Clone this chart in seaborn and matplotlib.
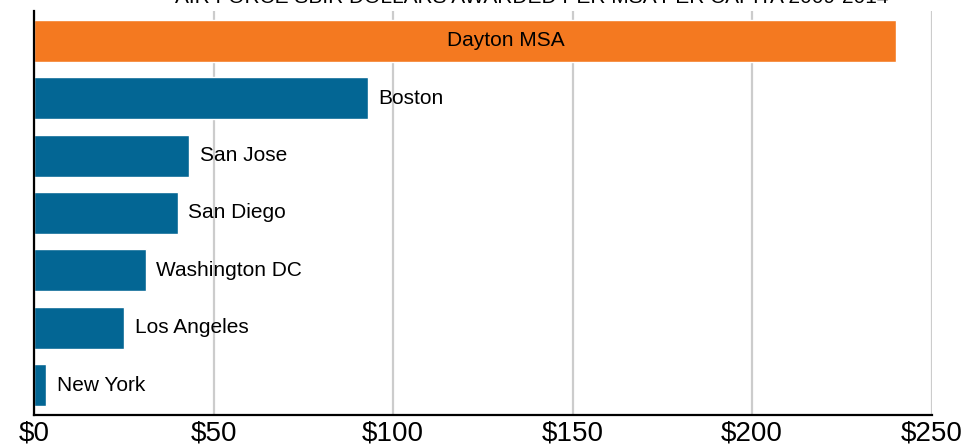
import matplotlib
matplotlib.use("Agg")
import matplotlib.pyplot as plt
import seaborn as sns
import pandas as pd

# ---- data ----
cities = ["Dayton MSA", "Boston", "San Jose", "San Diego", "Washington DC", "Los Angeles", "New York"]
dollars_per_capita = [240.0, 93.0, 43.2, 40.1, 31.2, 25.1, 3.4]
groups = ["Dayton", "Other", "Other", "Other", "Other", "Other", "Other"]
x_ticks = [0, 50, 100, 150, 200, 250]
x_tick_labels = ["$0", "$50", "$100", "$150", "$200", "$250"]
title = "AIR FORCE SBIR DOLLARS AWARDED PER MSA PER CAPITA 2009-2014"

ORANGE = "#F47920"
BLUE = "#036694"

sns.set_theme(style="white")
plt.rcParams["font.family"] = ["Liberation Sans", "DejaVu Sans"]

df = pd.DataFrame({"city": cities, "value": dollars_per_capita, "group": groups})

fig = plt.figure(figsize=(9.65, 4.47), dpi=100)
ax = fig.add_axes([34 / 965, 1 - 415 / 447, (931.5 - 34) / 965, (415 - 11) / 447])

sns.barplot(data=df, x="value", y="city", hue="group", orient="h",
            palette={"Dayton": ORANGE, "Other": BLUE}, width=0.73,
            dodge=False, legend=False, ax=ax, saturation=1)

ax.set_xlim(0, 250)
ax.set_ylim(len(cities) - 0.48, -0.52)
ax.set_xticks(x_ticks)
ax.set_xticklabels(x_tick_labels, fontsize=20)
ax.set_yticks([])
ax.set_xlabel("")
ax.set_ylabel("")
ax.tick_params(axis="x", length=0, pad=4, colors="black")

ax.grid(axis="x", color="#cccccc", linewidth=1.6)
ax.set_axisbelow(True)
for s in ["top", "right"]:
    ax.spines[s].set_visible(False)
for s in ["left", "bottom"]:
    ax.spines[s].set_color("black")
    ax.spines[s].set_linewidth(1.6)
    ax.spines[s].set_zorder(5)

for i, (c, v) in enumerate(zip(cities, dollars_per_capita)):
    if i == 0:
        ax.annotate(c, xy=(v / 2, i), xytext=(29.5, 0), textcoords="offset points",
                    ha="center", va="center", fontsize=15, color="black")
    else:
        ax.annotate(c, xy=(v, i), xytext=(7.5, 0), textcoords="offset points",
                    ha="left", va="center", fontsize=15, color="black")

fig.text(532 / 965, 1 - 3 / 447, title, ha="center", va="baseline", fontsize=15, color="black")

fig.savefig("out.png", dpi=100)
